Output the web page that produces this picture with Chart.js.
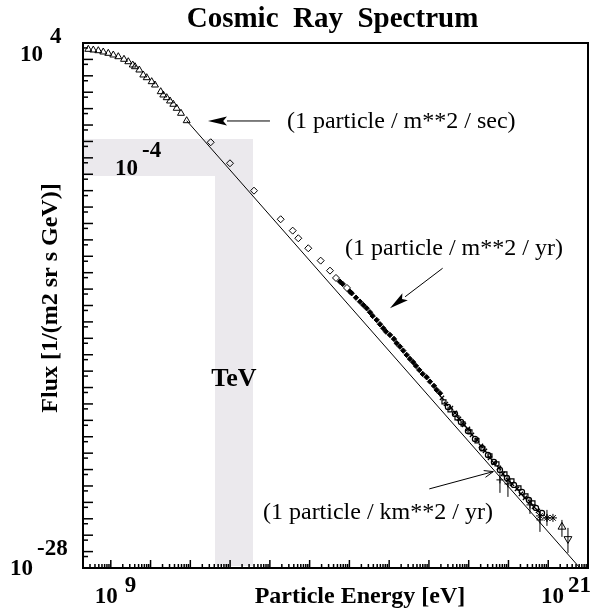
<!DOCTYPE html>
<html>
<head>
<meta charset="utf-8">
<script src="https://cdn.jsdelivr.net/npm/chart.js@4.4.1/dist/chart.umd.min.js"></script>
<style>
  html, body { margin: 0; padding: 0; background: #fff; }
  #wrap { width: 595px; height: 610px; position: relative; }
</style>
</head>
<body>
<div id="wrap"><canvas id="spectrum"></canvas></div>
<script>
// every value below is log10: energy in eV, flux in 1/(m2 sr s GeV)

// low energy (triangles)
const lowE    = [8.434, 8.56, 8.686, 8.811, 8.937, 9.063, 9.189, 9.332, 9.44, 9.551, 9.608, 9.717,
                 9.817, 9.903, 10.028, 10.111, 10.255, 10.32, 10.406, 10.489, 10.572, 10.657, 10.765, 10.908];
const lowFlux = [3.616, 3.573, 3.531, 3.452, 3.372, 3.269, 3.165, 3.007, 2.86, 2.66, 2.556, 2.355,
                 2.05, 1.885, 1.642, 1.44, 1.032, 0.831, 0.667, 0.466, 0.265, 0.021, -0.284, -0.735];

// direct measurements (diamonds)
const midE    = [11.512, 11.997, 12.601, 13.272, 13.574, 13.715, 13.966, 14.278, 14.512, 14.663, 14.939];
const midFlux = [-2.051, -3.331, -5.001, -6.743, -7.438, -7.901, -8.511, -9.266, -9.876, -10.321, -10.93];

// air showers (small filled markers)
const airE    = [14.763, 14.831, 15.015, 15.057, 15.165, 15.266, 15.349, 15.434, 15.517, 15.585,
                 15.686, 15.769, 15.852, 15.92, 16.02, 16.121, 16.189, 16.272, 16.355, 16.44,
                 16.523, 16.606, 16.674, 16.757, 16.843, 16.943, 17.026, 17.127, 17.195, 17.278];
const airFlux = [-10.546, -10.686, -11.155, -11.253, -11.521, -11.765, -11.966, -12.167, -12.411, -12.636,
                 -12.88, -13.142, -13.386, -13.593, -13.794, -14.038, -14.3, -14.507, -14.751, -15.013,
                 -15.257, -15.458, -15.683, -15.927, -16.171, -16.372, -16.64, -16.902, -17.146, -17.347];

// highest energies, three experiments (open squares / open circles / crosses)
const sqE     = [17.378, 17.529, 17.705, 17.856, 18.032, 18.208, 18.359, 18.535, 18.711, 18.912, 19.088, 19.264, 19.44, 19.616];
const sqFlux  = [-17.877, -18.364, -18.852, -19.217, -19.705, -20.254, -20.741, -21.168, -21.655, -22.264, -22.691, -23.118, -23.605, -24.032];
const ciE     = [17.479, 17.655, 17.806, 17.982, 18.158, 18.334, 18.485, 18.635, 18.786, 18.962, 19.138, 19.339, 19.515, 19.691, 19.842];
const ciFlux  = [-18.182, -18.608, -19.096, -19.644, -20.132, -20.68, -21.107, -21.533, -22.021, -22.508, -22.935, -23.361, -23.849, -24.336, -24.641];
const xeE     = [17.328, 17.428, 17.554, 17.655, 17.755, 17.881, 17.982, 18.082, 18.208, 18.309, 18.409, 18.535,
                 18.635, 18.761, 18.862, 18.987, 19.088, 19.214, 19.314, 19.415, 19.541, 19.641, 19.742];
const xeFlux  = [-17.633, -17.999, -18.243, -18.547, -18.913, -19.278, -19.522, -19.888, -20.192, -20.558, -20.863, -21.29,
                 -21.594, -21.899, -22.264, -22.63, -22.874, -23.179, -23.483, -23.727, -23.971, -24.275, -24.519];
const starE   = [19.792, 19.968, 20.119];
const starFlux = [-24.824, -24.946, -24.946];

// points with error bars
const barE    = [18.786, 18.987, 19.541, 19.792, 19.968];
const barFlux = [-22.63, -22.874, -24.154, -25.068, -24.946];
const barHigh = [-21.838, -22.386, -23.727, -24.519, -24.458];
const barLow  = [-23.42, -23.666, -24.702, -25.799, -25.433];
const limE    = [20.345, 20.496];
const limFlux = [-25.494, -26.226];
const limHigh = [-25.068, -25.555];
const limLow  = [-26.104, -27.079];

// power law
const fitE    = [10.908, 20.798];
const fitFlux = [-0.735, -28];

// shaded: flux band and TeV band
const bandE    = [11.62, 12.576];
const bandFlux = [-1.85, -4.105];

// axes
const xDecades = [9, 10, 11, 12, 13, 14, 15, 16, 17, 18, 19, 20, 21];
const xMinor   = [2, 3, 4, 5, 6, 7, 8, 9];
const yDecades = [-27, -26, -25, -24, -23, -22, -21, -20, -19, -18, -17, -16, -15, -14, -13, -12,
                  -11, -10, -9, -8, -7, -6, -5, -4, -3, -2, -1, 0, 1, 2, 3];
const xLabelExp = ['9', '21'];
const yLabelExp = ['4', '-28'];

const notes = [
  { text: '(1 particle / m**2 / sec)', at: [13.43, -1.18],  from: [13.003, -0.753], to: [11.444, -0.753], open: false },
  { text: '(1 particle / m**2 / yr)',  at: [14.889, -8.919], from: [17.345, -9.729], to: [16.02, -12.167], open: false },
  { text: '(1 particle / km**2 / yr)', at: [12.827, -25.007], from: [17.009, -23.179], to: [18.618, -22.124], open: true }
];

const serif = '"Liberation Serif", "Times New Roman", serif';
const pts = (es, fs) => es.map((e, i) => ({ x: 10 ** e, y: 10 ** fs[i] }));

function drawArrow(ctx, x0, y0, x1, y1, open) {
  const a = Math.atan2(y1 - y0, x1 - x0);
  const len = open ? 9 : 19, hw = open ? 3.5 : 4.5;
  const bx = x1 - len * Math.cos(a), by = y1 - len * Math.sin(a);
  const nx = -Math.sin(a) * hw, ny = Math.cos(a) * hw;
  ctx.beginPath();
  ctx.moveTo(x0, y0);
  ctx.lineTo(open ? x1 : bx, open ? y1 : by);
  ctx.stroke();
  ctx.beginPath();
  ctx.moveTo(bx + nx, by + ny);
  ctx.lineTo(x1, y1);
  ctx.lineTo(bx - nx, by - ny);
  if (open) {
    ctx.stroke();
  } else {
    ctx.lineTo(x1 - len * 0.8 * Math.cos(a), y1 - len * 0.8 * Math.sin(a));
    ctx.closePath();
    ctx.fill();
  }
}

const rootFrame = {
  id: 'rootFrame',
  beforeDatasetsDraw(chart) {
    const { ctx, chartArea: a, scales: { x, y } } = chart;
    const px = e => x.getPixelForValue(10 ** e), py = f => y.getPixelForValue(10 ** f);
    const x0 = px(bandE[0]), x1 = px(bandE[1]), y0 = py(bandFlux[0]), y1 = py(bandFlux[1]);
    ctx.save();
    ctx.fillStyle = '#ebe9ed';
    ctx.fillRect(a.left + 1, y0, x1 - a.left - 1, y1 - y0);
    ctx.fillRect(x0, y0, x1 - x0, a.bottom - 2 - y0);

    // error bars
    ctx.strokeStyle = '#000';
    ctx.lineWidth = 1;
    const bars = (es, hi, lo) => es.forEach((e, i) => {
      ctx.beginPath();
      ctx.moveTo(px(e), py(hi[i]));
      ctx.lineTo(px(e), py(lo[i]));
      ctx.stroke();
    });
    bars(barE, barHigh, barLow);
    bars(limE, limHigh, limLow);
    ctx.restore();
  },
  afterDatasetsDraw(chart) {
    const { ctx, chartArea: a, scales: { x, y } } = chart;
    const px = e => x.getPixelForValue(10 ** e), py = f => y.getPixelForValue(10 ** f);
    ctx.save();
    ctx.strokeStyle = '#000';
    ctx.fillStyle = '#000';

    // ticks point inwards
    ctx.lineWidth = 1.5;
    xDecades.forEach(d => {
      const p = px(d);
      ctx.beginPath(); ctx.moveTo(p, a.bottom); ctx.lineTo(p, a.bottom - 8); ctx.stroke();
      xMinor.forEach(m => {
        const v = Math.log10(m) + d - 1;
        if (10 ** v <= x.min) return;
        const q = px(v);
        ctx.beginPath(); ctx.moveTo(q, a.bottom); ctx.lineTo(q, a.bottom - 4); ctx.stroke();
      });
    });
    yDecades.forEach(d => {
      const p = py(d);
      ctx.beginPath(); ctx.moveTo(a.left, p); ctx.lineTo(a.left + 10, p); ctx.stroke();
    });
    yDecades.concat([4]).forEach(d => {
      const q = py(Math.log10(5) + d - 1);
      ctx.beginPath(); ctx.moveTo(a.left, q); ctx.lineTo(a.left + 5, q); ctx.stroke();
    });

    // frame
    ctx.lineWidth = 2;
    ctx.strokeRect(a.left, a.top, a.right - a.left, a.bottom - a.top);

    // tick labels as powers of ten
    ctx.font = 'bold 23px ' + serif;
    ctx.textBaseline = 'alphabetic';
    const p9 = px(+xLabelExp[0]), p21 = px(+xLabelExp[1]);
    ctx.textAlign = 'right';
    ctx.fillText('10', p9 + 7, a.bottom + 35);
    ctx.fillText('10', p21 - 24, a.bottom + 35);
    ctx.textAlign = 'left';
    ctx.fillText(xLabelExp[0], p9 + 14, a.bottom + 24);
    ctx.fillText(xLabelExp[1], p21 - 20, a.bottom + 24);
    const q4 = py(+yLabelExp[0]), q28 = py(+yLabelExp[1]);
    ctx.textAlign = 'right';
    ctx.fillText('10', a.left - 40, q4 + 18);
    ctx.fillText('10', a.left - 50, q28 + 7);
    ctx.textAlign = 'left';
    ctx.fillText(yLabelExp[0], a.left - 33, q4);
    ctx.fillText(yLabelExp[1], a.left - 46, q28 - 13);

    // titles
    ctx.font = 'bold 29px ' + serif;
    ctx.textAlign = 'center';
    ctx.fillText('Cosmic  Ray  Spectrum', (a.left + a.right) / 2 - 3, 27);
    ctx.font = 'bold 24px ' + serif;
    ctx.fillText('Particle Energy [eV]', 360, a.bottom + 35);
    ctx.save();
    ctx.translate(57, 298);
    ctx.rotate(-Math.PI / 2);
    ctx.fillText('Flux [1/(m2 sr s GeV)]', 0, 0);
    ctx.restore();

    // labels inside the shaded bands
    ctx.font = 'bold 23px ' + serif;
    ctx.textAlign = 'left';
    ctx.fillText('10', px(9.106), py(-4.044));
    ctx.fillText('-4', px(9.785), py(-2.947));
    ctx.font = 'bold 26px ' + serif;
    ctx.textAlign = 'center';
    ctx.fillText('TeV', px(12.098), py(-16.902));

    // annotations
    ctx.font = '24px ' + serif;
    ctx.textAlign = 'left';
    ctx.lineWidth = 1;
    notes.forEach(n => {
      ctx.fillText(n.text, px(n.at[0]), py(n.at[1]));
      drawArrow(ctx, px(n.from[0]), py(n.from[1]), px(n.to[0]), py(n.to[1]), n.open);
    });
    ctx.restore();
  }
};

const open = { borderColor: '#000', backgroundColor: 'rgba(0,0,0,0)', borderWidth: 1 };

new Chart(document.getElementById('spectrum'), {
  type: 'scatter',
  data: {
    datasets: [
      { data: pts(fitE, fitFlux), showLine: true, borderColor: '#000', borderWidth: 1, pointRadius: 0 },
      { data: pts(lowE, lowFlux), pointStyle: 'triangle', pointRadius: 4, ...open },
      { data: pts(midE, midFlux), pointStyle: 'rectRot', pointRadius: 3.5, ...open },
      { data: pts(airE, airFlux), pointStyle: 'rectRot', pointRadius: 2.7, borderColor: '#000', backgroundColor: '#000', borderWidth: 1 },
      { data: pts(sqE, sqFlux), pointStyle: 'rect', pointRadius: 2.8, ...open, borderWidth: 1.2 },
      { data: pts(ciE, ciFlux), pointStyle: 'circle', pointRadius: 2.6, ...open, borderWidth: 1.2 },
      { data: pts(xeE, xeFlux), pointStyle: 'crossRot', pointRadius: 3, ...open, borderWidth: 1.2 },
      { data: pts(starE, starFlux), pointStyle: 'star', pointRadius: 4, ...open },
      { data: pts(barE, barFlux), pointStyle: 'cross', pointRadius: 3.5, ...open },
      { data: pts(limE.slice(0, 1), limFlux.slice(0, 1)), pointStyle: 'triangle', pointRadius: 4.5, ...open },
      { data: pts(limE.slice(1), limFlux.slice(1)), pointStyle: 'triangle', rotation: 180, pointRadius: 4.5, ...open }
    ]
  },
  options: {
    responsive: true,
    maintainAspectRatio: false,
    animation: false,
    layout: { padding: { left: 83, top: 43, right: 7, bottom: 42 } },
    plugins: { legend: { display: false }, tooltip: { enabled: false } },
    scales: {
      x: { type: 'logarithmic', min: 2e8, max: 1e21, display: false },
      y: { type: 'logarithmic', min: 1e-28, max: 1e4, display: false }
    }
  },
  plugins: [rootFrame]
});
</script>
</body>
</html>
